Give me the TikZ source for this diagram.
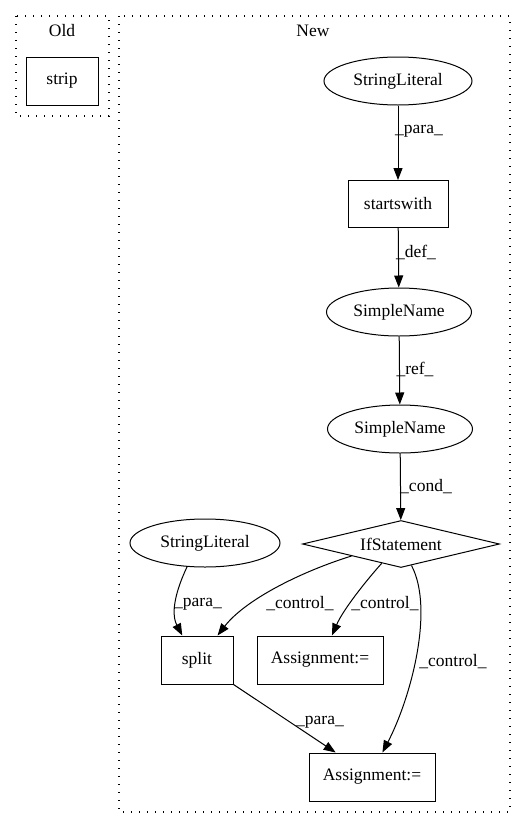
\documentclass[tikz,border=0pt]{standalone}
\usepackage{fontspec}
\setmainfont{Liberation Serif}
\usetikzlibrary{shapes.geometric,arrows.meta,calc}
\begin{document}
\begin{tikzpicture}[x=1pt,y=-1pt, font=\fontsize{17.5}{20}\selectfont, line width=1pt,
 box/.style={draw, rectangle, inner sep=0pt, minimum height=48pt},
 ell/.style={draw, ellipse, inner sep=0pt, minimum width=146pt, minimum height=48pt},
 dia/.style={draw, diamond, inner sep=0pt, minimum width=197pt, minimum height=47pt, shape aspect=4},
 arr/.style={-{Triangle[length=12pt,width=9pt]}},
 lbl/.style={inner sep=0pt},
 cluster/.style={draw, line width=1.3pt, dash pattern=on 1.4pt off 6.6pt}]
\useasboundingbox (0,0) rectangle (527,828);
% clusters
\draw[cluster] (16,16) rectangle (109,116);
\node (oldlbl) at (62,31) {Old};
\draw[cluster] (119,16) rectangle (510,812);
\node (newlbl) at (313,31) {New};
% nodes
\node[box, minimum width=72pt] (strip) at (62,81) {strip};
\node[ell, minimum width=148pt] (sl1) at (398,81) {StringLiteral};
\node[box, minimum width=100pt, minimum height=47pt] (sw) at (398,204) {startswith};
\node[ell, minimum width=145pt] (sn1) at (399,312) {SimpleName};
\node[ell, minimum width=145pt] (sn2) at (400,429) {SimpleName};
\node[dia] (if) at (401,544) {IfStatement};
\node[ell, minimum width=150pt] (sl2) at (205,543) {StringLiteral};
\node[box, minimum width=72pt] (split) at (197,660) {split};
\node[box, minimum width=126pt] (as1) at (320,660) {Assignment:=};
\node[box, minimum width=126pt] (as2) at (372,777) {Assignment:=};
% edges
\draw[arr] (sl1) -- (sw) node[lbl] at (419,131) {\_para\_};
\draw[arr] (sw) -- (sn1) node[lbl] at (416,252) {\_def\_};
\draw[arr] (sn1) -- (sn2) node[lbl] at (415,369) {\_ref\_};
\draw[arr] (sn2) -- (if) node[lbl] at (426,487) {\_cond\_};
\draw[arr] (sl2.233) .. controls (177,588) and (170,612) .. (split.121) node[lbl] at (198,604) {\_para\_};
\draw[arr] (if.south west) .. controls (300,572) and (245,600) .. (split.50) node[lbl] at (300,604) {\_control\_};
\draw[arr] (if.225) .. controls (365,582) and (343,610) .. (as1.64) node[lbl] at (385,604) {\_control\_};
\draw[arr] (if.-64) .. controls (435,610) and (410,700) .. (as2.67) node[lbl] at (453,662) {\_control\_};
\draw[arr] (split.south east) -- (as2.146) node[lbl] at (320,722) {\_para\_};
\end{tikzpicture}
\end{document}
